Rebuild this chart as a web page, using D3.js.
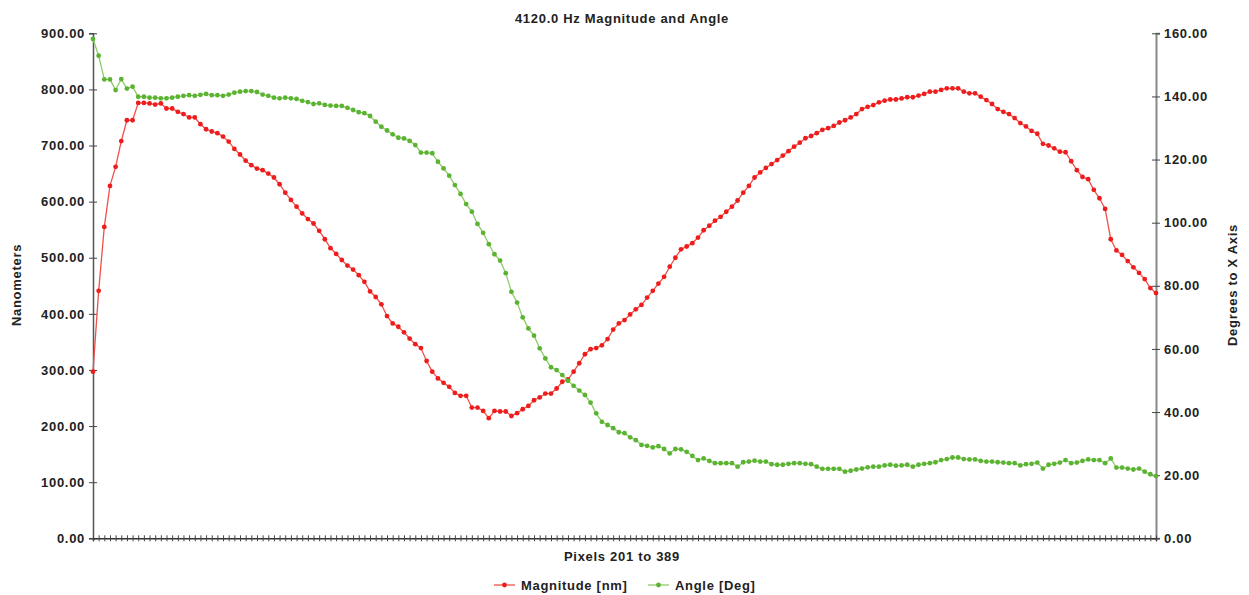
<!DOCTYPE html>
<html lang="en">
<head>
  <meta charset="UTF-8" />
  <title>4120.0 Hz Magnitude and Angle</title>
  <script src="https://d3js.org/d3.v7.min.js"></script>
  <style>
    body {
      margin: 0;
      background: #fff;
      font-family: 'Liberation Sans', Arial, sans-serif;
    }
    svg text { fill: #222; letter-spacing: 0.7px; }
  </style>
</head>
<body>
  <div id="chart"></div>

  <script>
    // Pixels 201 to 389
    const pixels = d3.range(201, 390);

    const magnitude = [
      297, 441, 555, 628, 662, 708, 745, 745, 776, 776,
      775, 773, 775, 766, 766, 760, 756, 750, 750, 738,
      729, 725, 722, 716, 707, 694, 684, 673, 665, 659,
      656, 650, 643, 631, 616, 603, 591, 579, 569, 561,
      548, 533, 517, 507, 496, 486, 479, 469, 457, 440,
      430, 417, 396, 383, 377, 367, 356, 346, 339, 316,
      297, 285, 277, 270, 259, 254, 254, 233, 233, 227,
      214, 227, 226, 226, 218, 223, 230, 236, 246, 251,
      258, 258, 267, 279, 283, 297, 312, 328, 337, 339,
      344, 355, 372, 383, 389, 399, 408, 416, 429, 441,
      454, 466, 484, 500, 515, 520, 526, 536, 549, 557,
      566, 573, 582, 591, 602, 616, 628, 643, 652, 660,
      667, 674, 682, 690, 698, 705, 713, 717, 722, 728,
      731, 735, 741, 745, 750, 756, 765, 769, 772, 777,
      780, 782, 782, 784, 786, 786, 789, 792, 796, 796,
      799, 802, 802, 802, 796, 793, 793, 787, 781, 774,
      765, 760, 756, 749, 740, 734, 726, 721, 703, 700,
      695, 689, 688, 672, 656, 644, 640, 621, 606, 587,
      533, 513, 505, 494, 483, 473, 462, 446, 437
    ];

    const angle = [
      158.2, 152.9, 145.4, 145.4, 142.0, 145.5, 142.5, 143.1, 139.9, 139.9,
      139.6, 139.6, 139.4, 139.4, 139.6, 139.9, 140.2, 140.4, 140.2, 140.5,
      140.8, 140.4, 140.4, 140.2, 140.6, 141.2, 141.5, 141.7, 141.7, 141.4,
      140.6, 140.2, 139.6, 139.4, 139.6, 139.4, 139.2, 138.6, 138.2, 137.6,
      137.8, 137.3, 137.1, 137.0, 137.0, 136.4, 135.7, 135.0, 134.7, 133.8,
      132.0, 130.4, 129.2, 128.0, 126.9, 126.7, 125.9, 124.6, 122.2, 122.2,
      122.0, 119.3, 117.2, 114.9, 111.9, 109.1, 105.9, 103.5, 99.6, 96.8,
      93.2, 90.0, 88.0, 84.0, 78.1, 74.7, 70.0, 66.5, 64.2, 60.2,
      57.0, 54.2, 53.3, 51.7, 49.9, 48.3, 46.8, 45.4, 43.0, 39.6,
      36.9, 35.9, 34.9, 33.6, 33.3, 32.0, 31.1, 29.6, 29.3, 28.8,
      29.2, 28.3, 26.9, 28.3, 28.2, 27.4, 26.1, 24.8, 25.3, 24.5,
      23.8, 23.8, 23.8, 23.8, 22.7, 24.1, 24.3, 24.6, 24.3, 24.3,
      23.5, 23.3, 23.3, 23.6, 23.8, 23.8, 23.6, 23.5, 22.7, 22.0,
      22.0, 22.0, 22.0, 21.1, 21.4, 21.8, 22.1, 22.5, 22.7, 22.7,
      23.1, 23.3, 23.0, 23.1, 23.3, 22.7, 23.3, 23.6, 23.8, 24.1,
      24.8, 25.1, 25.6, 25.6, 25.1, 25.0, 25.0, 24.5, 24.3, 24.3,
      24.1, 24.0, 23.8, 23.8, 23.1, 23.5, 23.6, 24.0, 22.1, 23.3,
      23.6, 24.0, 24.8, 23.8, 24.0, 24.5, 25.0, 24.8, 24.8, 23.8,
      25.3, 22.4, 22.4, 22.1, 21.8, 22.1, 21.1, 20.3, 19.7
    ];

    const leftTicks = [0, 100, 200, 300, 400, 500, 600, 700, 800, 900];
    const rightTicks = [0, 20, 40, 60, 80, 100, 120, 140, 160];

    const width = 1249, height = 595;
    const margin = { top: 33.3, right: 93, bottom: 56.7, left: 93 };
    const plotW = width - margin.left - margin.right;
    const plotH = height - margin.top - margin.bottom;

    const redColor = "#ee1c1c", redLine = "#f0504a";
    const greenColor = "#5bb332", greenLine = "#8fcb68";

    const svg = d3.select("#chart")
      .append("svg")
      .attr("width", width)
      .attr("height", height);

    const g = svg.append("g")
      .attr("transform", `translate(${margin.left},${margin.top})`);

    const x = d3.scalePoint().domain(pixels).range([0, plotW]);
    const yLeft = d3.scaleLinear().domain([0, 900]).range([plotH, 0]);
    const yRight = d3.scaleLinear().domain([0, 160]).range([plotH, 0]);
    const fmt = d3.format(".2f");

    // left axis, ticks crossing the line
    const leftAxis = g.append("g")
      .call(d3.axisLeft(yLeft).tickValues(leftTicks).tickSize(4).tickPadding(4).tickFormat(fmt));
    g.append("g")
      .call(d3.axisRight(yLeft).tickValues(leftTicks).tickSize(4).tickFormat(""))
      .select(".domain").remove();
    leftAxis.select(".domain").attr("stroke", "#555").attr("stroke-width", 1.5);

    // right axis
    const rightAxis = g.append("g")
      .attr("transform", `translate(${plotW},0)`)
      .call(d3.axisRight(yRight).tickValues(rightTicks).tickSize(4).tickPadding(4).tickFormat(fmt));
    g.append("g")
      .attr("transform", `translate(${plotW},0)`)
      .call(d3.axisLeft(yRight).tickValues(rightTicks).tickSize(4).tickFormat(""))
      .select(".domain").remove();
    rightAxis.select(".domain").attr("stroke", "#888").attr("stroke-width", 2);

    // bottom axis, one crossing tick per pixel
    const bottomAxis = g.append("g")
      .attr("transform", `translate(0,${plotH})`)
      .call(d3.axisBottom(x).tickSize(3).tickFormat(""));
    g.append("g")
      .attr("transform", `translate(0,${plotH})`)
      .call(d3.axisTop(x).tickSize(3).tickFormat(""))
      .select(".domain").remove();
    bottomAxis.select(".domain").attr("stroke", "#333").attr("stroke-width", 1.5);

    g.selectAll(".tick line").attr("stroke", "#444");
    g.selectAll(".tick text")
      .attr("font-size", 13)
      .attr("font-weight", "bold")
      .attr("font-family", "'Liberation Sans', Arial, sans-serif")
      .attr("fill", "#2a2a2a");

    // series
    const series = [
      { name: "Magnitude [nm]", values: magnitude, y: yLeft, color: redColor, line: redLine },
      { name: "Angle [Deg]", values: angle, y: yRight, color: greenColor, line: greenLine }
    ];

    series.forEach(s => {
      const line = d3.line()
        .x((d, i) => x(pixels[i]))
        .y(d => s.y(d));

      g.append("path")
        .datum(s.values)
        .attr("fill", "none")
        .attr("stroke", s.line)
        .attr("stroke-width", 1.3)
        .attr("d", line);

      g.append("g")
        .selectAll("circle")
        .data(s.values)
        .enter()
        .append("circle")
        .attr("cx", (d, i) => x(pixels[i]))
        .attr("cy", d => s.y(d))
        .attr("r", 2.4)
        .attr("fill", s.color);
    });

    // title and axis titles
    svg.append("text")
      .attr("x", 622)
      .attr("y", 23)
      .attr("text-anchor", "middle")
      .attr("font-size", 13)
      .attr("font-weight", "bold")
      .text("4120.0 Hz Magnitude and Angle");

    svg.append("text")
      .attr("transform", "translate(21,285) rotate(-90)")
      .attr("text-anchor", "middle")
      .attr("font-size", 13)
      .attr("font-weight", "bold")
      .text("Nanometers");

    svg.append("text")
      .attr("transform", "translate(1237,285) rotate(-90)")
      .attr("text-anchor", "middle")
      .attr("font-size", 13)
      .attr("font-weight", "bold")
      .text("Degrees to X Axis");

    svg.append("text")
      .attr("x", 622)
      .attr("y", 561)
      .attr("text-anchor", "middle")
      .attr("font-size", 13)
      .attr("font-weight", "bold")
      .text("Pixels 201 to 389");

    // legend
    const legendX = [494, 648];
    const legend = svg.append("g").attr("transform", "translate(0,585)");
    series.forEach((s, i) => {
      const lg = legend.append("g").attr("transform", `translate(${legendX[i]},0)`);
      lg.append("line")
        .attr("x1", 0).attr("x2", 21)
        .attr("stroke", s.line).attr("stroke-width", 1.3);
      lg.append("circle").attr("cx", 10.5).attr("r", 2.4).attr("fill", s.color);
      lg.append("text")
        .attr("x", 27)
        .attr("dy", "0.35em")
        .attr("font-size", 13)
        .attr("font-weight", "bold")
        .text(s.name);
    });
  </script>
</body>
</html>
